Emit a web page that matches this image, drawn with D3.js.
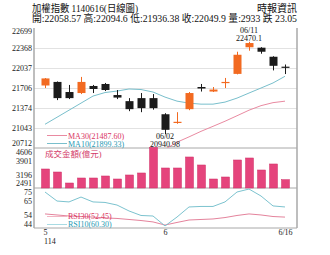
<!DOCTYPE html>
<html>
<head>
<meta charset="utf-8">
<style type="text/css">
body { margin: 0; background: #fff; }
svg { display: block; }
.serif { font-family: "Liberation Serif", "Noto Sans CJK TC", serif; }
.tick text { font-family: "Liberation Serif", serif; font-size: 8px; fill: #222; }
</style>
<script src="https://d3js.org/d3.v7.min.js"></script>
</head>
<body>
<script type="text/javascript">
var width = 330;
var height = 255;

var dates = ["05/16","05/19","05/20","05/21","05/22","05/23","05/26","05/27","05/28","05/29",
	"06/02","06/03","06/04","06/05","06/06","06/09","06/10","06/11","06/12","06/13","06/16"];
var open  = [21747, 21806, 21639, 21622, 21739, 21772, 21589, 21488, 21538, 21538,
	21271, 21130, 21355, 21722, 21647, 21789, 21939, 22380, 22373, 22223, 22058.57];
var close = [21864, 21538, 21538, 21806, 21689, 21672, 21547, 21355, 21372, 21372,
	21013, 21146, 21622, 21697, 21680, 21806, 22256, 22450, 22306, 22072.95, 22049.9];
var high  = [21870, 21814, 21756, 21889, 21756, 21789, 21672, 21538, 21622, 21605,
	21288, 21305, 21639, 21772, 21722, 21872, 22306, 22470.1, 22381, 22231, 22094.6];
var low   = [21705, 21505, 21522, 21605, 21622, 21655, 21522, 21322, 21305, 21347,
	20940.98, 21113, 21338, 21647, 21639, 21705, 21931, 22323, 22273, 21997, 21936.38];
var ma10  = [21105, 21221, 21338, 21455, 21572, 21630, 21655, 21689, 21680, 21639,
	21555, 21488, 21455, 21438, 21438, 21472, 21538, 21622, 21705, 21789, 21899.33];
var ma30  = [null, null, null, null, null, null, null, null, null, null,
	20690, 20808, 20896, 20988, 21071, 21155, 21246, 21338, 21413, 21463, 21487.60];
var volume = [3496, 3337, 2755, 3020, 3020, 3126, 2967, 3179, 3285, 4640,
	3549, 3549, 4131, 3708, 2967, 3073, 3972, 4078, 3443, 3761, 2933];
var rsi10 = [71.9, 64.9, 64.2, 68.0, 64.2, 63.8, 61.8, 57.2, 53.7, 53.3,
	45.6, 52.5, 60.3, 60.7, 60.7, 64.2, 71.9, 74.2, 68.8, 61.1, 60.30];
var rsi30 = [54.9, 54.1, 53.3, 52.9, 52.5, 51.8, 51.4, 50.6, 49.8, 48.7,
	46.3, 48.3, 50.2, 50.6, 51.0, 52.1, 53.7, 54.9, 54.1, 52.9, 52.45];

var priceTicks = [22699, 22368, 22037, 21706, 21374, 21043, 20712];
var volTicks = [4606, 3901, 3196, 2491];
var rsiTicks = [75, 65, 54, 44];
var xTickIdx = [0, 10, 20];
var xTickLabels = ["5", "6", "6/16"];

var upColor = "#f26a21";
var downColor = "#1b1b1b";

var svg = d3.select("body").append("svg").attr("width", width).attr("height", height);
svg.append("rect").attr("width", width).attr("height", height).attr("fill", "#fff");

var left = 34, right = 297;
var x = d3.scaleLinear().domain([0, 20]).range([45, 285]);
var yP = d3.scaleLinear().domain([20712, 22699]).range([148, 28]);
var yV = d3.scaleLinear().domain([2491, 4606]).range([188, 148]);
var yR = d3.scaleLinear().domain([44, 75]).range([228, 188]);

// gridlines in price panel
var grid = svg.append("g").attr("transform", "translate(" + left + ",0)")
	.call(d3.axisRight(yP).tickValues(priceTicks.slice(1, 6)).tickSize(right - left).tickFormat(""));
grid.select(".domain").remove();
grid.selectAll("line").attr("stroke", "#e2e2e2");

// panel frame
var frame = svg.append("g").attr("stroke", "#a8a8a8").attr("fill", "none");
frame.append("line").attr("x1", left).attr("x2", left).attr("y1", 28).attr("y2", 228).attr("stroke-width", 1.5);
frame.append("line").attr("x1", right).attr("x2", right).attr("y1", 28).attr("y2", 228).attr("stroke-width", 1.5);
[148, 188, 228].forEach(function(yy) {
	frame.append("line").attr("x1", left).attr("x2", right).attr("y1", yy).attr("y2", yy);
});

// left axis labels
function leftAxis(scale, ticks, topShift, botShift) {
	var g = svg.append("g").attr("transform", "translate(32,0)")
		.call(d3.axisLeft(scale).tickValues(ticks).tickSize(0).tickPadding(0).tickFormat(d3.format("d")));
	g.select(".domain").remove();
	g.selectAll("text").attr("dy", function(d, i) {
		var s = 0.32 * 8;
		if (i == 0) s += topShift;
		if (i == ticks.length - 1) s += botShift;
		return s + "px";
	});
}
leftAxis(yP, priceTicks, 3, -5);
leftAxis(yV, volTicks, 4, -5);
leftAxis(yR, rsiTicks, 4, -4);

// clip for price panel
svg.append("clipPath").attr("id", "clipP").append("rect")
	.attr("x", left).attr("y", 28).attr("width", right - left).attr("height", 120);

// moving averages
var line10 = d3.line().x(function(d, i) { return x(i); }).y(function(d) { return yP(d); });
var line30 = d3.line().defined(function(d) { return d != null; })
	.x(function(d, i) { return x(i); }).y(function(d) { return yP(d); });
svg.append("path").datum(ma30).attr("clip-path", "url(#clipP)")
	.attr("fill", "none").attr("stroke", "#e98aa1").attr("stroke-width", 1).attr("d", line30);
svg.append("path").datum(ma10).attr("clip-path", "url(#clipP)")
	.attr("fill", "none").attr("stroke", "#79bfcc").attr("stroke-width", 1).attr("d", line10);

// candles
var bw = 8;
var candles = svg.append("g").selectAll("g").data(dates).enter().append("g");
candles.append("line")
	.attr("x1", function(d, i) { return Math.round(x(i)) + 0.5; })
	.attr("x2", function(d, i) { return Math.round(x(i)) + 0.5; })
	.attr("y1", function(d, i) { return yP(high[i]); })
	.attr("y2", function(d, i) { return yP(low[i]); })
	.attr("stroke", function(d, i) { return close[i] >= open[i] ? upColor : downColor; })
	.attr("stroke-width", 1);
candles.append("rect")
	.attr("x", function(d, i) { return Math.round(x(i)) - bw / 2 + 0.5; })
	.attr("width", bw)
	.attr("y", function(d, i) { return yP(Math.max(open[i], close[i])); })
	.attr("height", function(d, i) { return Math.max(1.2, Math.abs(yP(open[i]) - yP(close[i]))); })
	.attr("fill", function(d, i) { return close[i] >= open[i] ? upColor : downColor; });

// price legends and notes
var leg = svg.append("g").attr("class", "serif").attr("font-size", "8px");
leg.append("line").attr("x1", 47).attr("x2", 67).attr("y1", 135.5).attr("y2", 135.5).attr("stroke", "#e98aa1");
leg.append("text").attr("x", 68).attr("y", 138.5).attr("fill", "#d9345f").text("MA30(21487.60)");
leg.append("line").attr("x1", 47).attr("x2", 67).attr("y1", 143.5).attr("y2", 143.5).attr("stroke", "#79bfcc");
leg.append("text").attr("x", 68).attr("y", 146.5).attr("fill", "#1f9ab3").text("MA10(21899.33)");

var notes = svg.append("g").attr("class", "serif").attr("font-size", "8px").attr("text-anchor", "middle").attr("fill", "#111");
notes.append("text").attr("x", x(10)).attr("y", 138.5).text("06/02");
notes.append("text").attr("x", x(10)).attr("y", 146.5).text("20940.98");
notes.append("text").attr("x", x(17)).attr("y", 32.5).text("06/11");
notes.append("text").attr("x", x(17)).attr("y", 40.5).text("22470.1");

// volume bars
svg.append("g").selectAll("rect").data(volume).enter().append("rect")
	.attr("x", function(d, i) { return Math.round(x(i)) - bw / 2 + 0.5; })
	.attr("width", bw)
	.attr("y", function(d) { return yV(d); })
	.attr("height", function(d) { return 188 - yV(d); })
	.attr("fill", "#e5447c")
	.attr("stroke", "#cf2f66")
	.attr("stroke-width", 0.5);
svg.append("text").attr("class", "serif").attr("x", 45).attr("y", 156.5)
	.attr("font-size", "8.5px").attr("fill", "#d33a67").text("成交金額(億元)");

// RSI
var lineR = d3.line().x(function(d, i) { return x(i); }).y(function(d) { return yR(d); });
svg.append("path").datum(rsi30).attr("fill", "none").attr("stroke", "#e4839c").attr("d", lineR);
svg.append("path").datum(rsi10).attr("fill", "none").attr("stroke", "#7cc3cf").attr("d", lineR);
var rleg = svg.append("g").attr("class", "serif").attr("font-size", "8px");
rleg.append("line").attr("x1", 47).attr("x2", 67).attr("y1", 216.5).attr("y2", 216.5).attr("stroke", "#f2b5c3");
rleg.append("text").attr("x", 68).attr("y", 219.3).attr("fill", "#d9345f").text("RSI30(52.45)");
rleg.append("line").attr("x1", 47).attr("x2", 67).attr("y1", 224.5).attr("y2", 224.5).attr("stroke", "#a8dbe3");
rleg.append("text").attr("x", 68).attr("y", 227.3).attr("fill", "#1f9ab3").text("RSI10(60.30)");

// x axis
var xa = svg.append("g").attr("transform", "translate(0,228)")
	.call(d3.axisBottom(x).tickValues(xTickIdx).tickSize(0).tickPadding(1)
		.tickFormat(function(d, i) { return xTickLabels[i]; }));
xa.select(".domain").remove();
svg.append("text").attr("class", "serif").attr("x", 44).attr("y", 243.5)
	.attr("font-size", "8px").attr("fill", "#222").text("114");

// header
var head = svg.append("g").attr("class", "serif").attr("fill", "#111");
head.append("text").attr("x", 32).attr("y", 12).attr("font-size", "10.5px")
	.attr("textLength", 106).attr("lengthAdjust", "spacingAndGlyphs").text("加權指數 1140616(日線圖)");
head.append("text").attr("x", 32).attr("y", 21.5).attr("font-size", "10px")
	.attr("textLength", 265).attr("lengthAdjust", "spacingAndGlyphs")
	.text("開:22058.57 高:22094.6 低:21936.38 收:22049.9 量:2933 跌 23.05");
head.append("text").attr("x", 297).attr("y", 12).attr("font-size", "10px").attr("text-anchor", "end").text("時報資訊");
</script>
</body>
</html>
